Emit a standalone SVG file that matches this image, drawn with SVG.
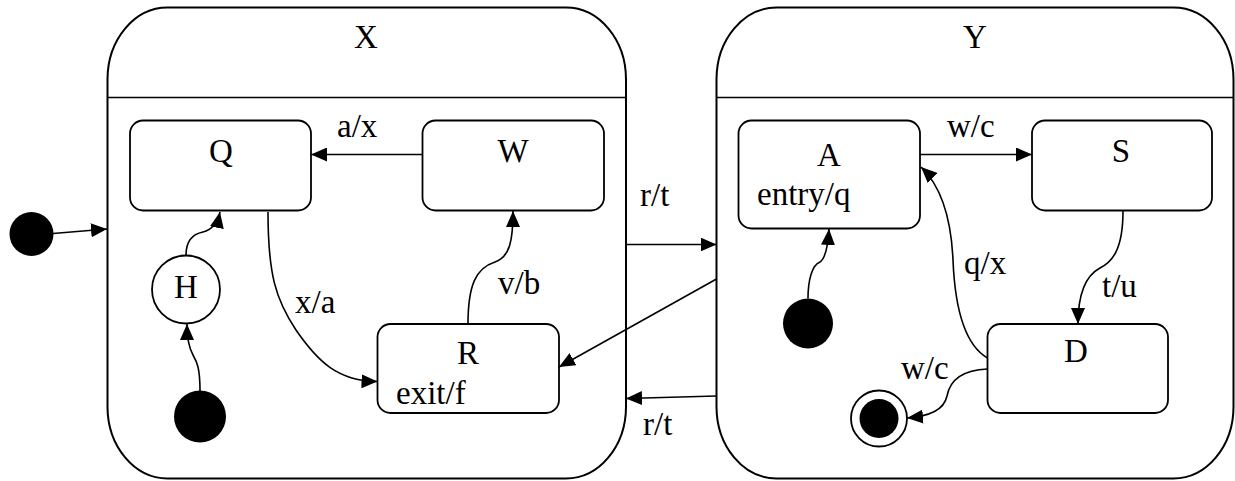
<svg xmlns="http://www.w3.org/2000/svg" width="1235" height="481" viewBox="0 0 1235 481">
<style>
.box{fill:#fff;stroke:#000;stroke-width:2}
.st{fill:#fff;stroke:#000;stroke-width:1.8}
.ln{fill:none;stroke:#000;stroke-width:1.6}
.dot{fill:#000}
text{font-family:"Liberation Serif","Times New Roman",serif;font-size:33px;fill:#000}
.c{text-anchor:middle}
</style>
<defs>
<marker id="arr" markerUnits="userSpaceOnUse" markerWidth="16" markerHeight="14" viewBox="0 0 16 14" refX="16" refY="7" orient="auto">
<path d="M0,0 L16,7 L0,14 z" fill="#000"/>
</marker>
</defs>
<rect width="1235" height="481" fill="#fff"/>
<g id="X">
<rect class="box" x="107.5" y="7.5" width="518.5" height="471" rx="60" ry="72"/>
<line class="ln" x1="107.5" y1="97.5" x2="626" y2="97.5" stroke-width="2"/>
<text class="c" x="366" y="48">X</text>
</g>
<g id="Y">
<rect class="box" x="716.5" y="7.5" width="517" height="471" rx="60" ry="72"/>
<line class="ln" x1="716.5" y1="97.5" x2="1233.5" y2="97.5" stroke-width="2"/>
<text class="c" x="975" y="48">Y</text>
</g>
<g id="init-outer"><circle class="dot" cx="31.5" cy="234" r="22"/></g>
<g id="Q"><rect class="st" x="130" y="120.5" width="181" height="90" rx="13"/><text class="c" x="221" y="162">Q</text></g>
<g id="W"><rect class="st" x="422.5" y="120.5" width="181.5" height="90" rx="13"/><text class="c" x="513" y="162">W</text></g>
<g id="R"><rect class="st" x="377.5" y="324" width="181.5" height="89" rx="13"/><text class="c" x="468" y="364">R</text><text x="396" y="404">exit/f</text></g>
<g id="H"><circle class="st" cx="186" cy="289.5" r="34"/><text class="c" x="186" y="298">H</text></g>
<g id="init-X"><circle class="dot" cx="200" cy="416.5" r="26"/></g>
<g id="A"><rect class="st" x="738.5" y="120.5" width="181.5" height="108" rx="13"/><text class="c" x="829" y="166">A</text><text x="757" y="205">entry/q</text></g>
<g id="S"><rect class="st" x="1032" y="120.5" width="180" height="90" rx="13"/><text class="c" x="1121" y="162">S</text></g>
<g id="D"><rect class="st" x="987.5" y="324" width="180.5" height="89" rx="13"/><text class="c" x="1076" y="362">D</text></g>
<g id="init-Y"><circle class="dot" cx="808" cy="323.5" r="25"/></g>
<g id="final"><circle class="st" cx="879" cy="418.5" r="28"/><circle class="dot" cx="879" cy="418.5" r="19.5"/></g>
<g id="connectors">
<path class="ln" d="M53,233.5 L107,229" marker-end="url(#arr)"/>
<path class="ln" d="M200,391 C200,368 197,362 193,355 C188,346 187,336 187,324" marker-end="url(#arr)"/>
<path class="ln" d="M186,255 C186,240 193,234 203,232 C212,230 218,222 220,212" marker-end="url(#arr)"/>
<path class="ln" d="M422.5,154.5 L311,154.5" marker-end="url(#arr)"/>
<path class="ln" d="M268,212 C268,275 276,300 296,330 C318,362 338,381 377.5,381.5" marker-end="url(#arr)"/>
<path class="ln" d="M468,324 C468,285 476,268 495,262 C510,257 513,240 513,211" marker-end="url(#arr)"/>
<path class="ln" d="M626,244.5 L716.5,244.5" marker-end="url(#arr)"/>
<path class="ln" d="M716.5,279 L559,367" marker-end="url(#arr)"/>
<path class="ln" d="M716.5,396 L626,398.5" marker-end="url(#arr)"/>
<path class="ln" d="M920,154.5 L1032,154.5" marker-end="url(#arr)"/>
<path class="ln" d="M808,298.5 C808,280 812,265 820,262 C826,258 828,245 829,229" marker-end="url(#arr)"/>
<path class="ln" d="M987.5,358 C965,345 955,310 953,260 C951,215 940,185 921,167" marker-end="url(#arr)"/>
<path class="ln" d="M1123,211 C1123,250 1112,262 1100,268 C1085,276 1078,295 1078,324" marker-end="url(#arr)"/>
<path class="ln" d="M987.5,369 C963,370 950,380 947,396 C944,410 930,416 907,418" marker-end="url(#arr)"/>
</g>
<g id="labels">
<text x="337" y="137">a/x</text>
<text x="295" y="313">x/a</text>
<text x="498" y="294">v/b</text>
<text x="640" y="206">r/t</text>
<text x="643" y="435">r/t</text>
<text x="947" y="137">w/c</text>
<text x="964" y="274">q/x</text>
<text x="1102" y="297">t/u</text>
<text x="901" y="379">w/c</text>
</g>
</svg>
